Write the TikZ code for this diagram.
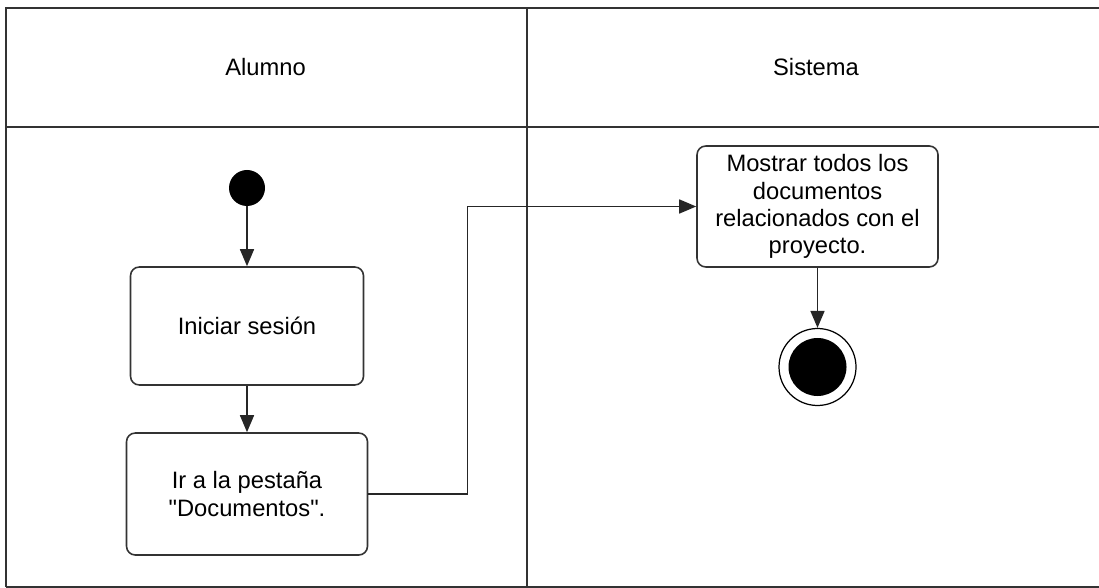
\documentclass[tikz,border=0pt]{standalone}
\usepackage{fontspec}
\setmainfont{Liberation Sans}
\newfontfamily\lanefont{Liberation Sans}
\usepackage{xcolor}
\usetikzlibrary{arrows.meta,positioning,calc}

\begin{document}
\begin{tikzpicture}[
  action/.style={rectangle, draw=black!80, rounded corners=5pt, line width=0.9pt,
                 align=center, font=\lanefont\fontsize{13.5}{15.5}\selectfont},
  lane/.style={draw=black!80, line width=1pt},
  flow/.style={-{Triangle[length=0.34cm, width=0.28cm]}, black!85, line width=0.9pt},
]
  \useasboundingbox (0,0) rectangle (21.98,-11.76);

  % Swimlanes
  \draw[lane] (0.12,-11.74) -- (0.12,-0.16) -- (21.98,-0.16);
  \draw[lane] (0.12,-2.54) -- (21.98,-2.54);
  \draw[lane] (0.12,-11.74) -- (21.98,-11.74);
  \draw[lane] (10.54,-0.16) -- (10.54,-11.74);
  \node[font=\lanefont\fontsize{13.5}{15.5}\selectfont] (alumno) at (5.31,-1.35) {Alumno};
  \node[font=\lanefont\fontsize{13.5}{15.5}\selectfont] (sistema) at (16.32,-1.35) {Sistema};

  % Nodes
  \node[circle, fill=black, inner sep=0pt, minimum size=0.72cm] (start) at (4.94,-3.76) {};
  \node[action, minimum width=4.66cm, minimum height=2.36cm] (login) at (4.94,-6.52) {Iniciar sesión};
  \node[action, minimum width=4.82cm, minimum height=2.44cm] (tab) at (4.94,-9.88)
    {Ir a la pestaña\\"Documentos".};
  \node[action, minimum width=4.82cm, minimum height=2.42cm] (show) at (16.35,-4.13)
    {Mostrar todos los\\documentos\\relacionados con el\\proyecto.};
  \node[circle, draw=black, line width=0.7pt, inner sep=0pt, minimum size=1.54cm] (stop) at (16.35,-7.34) {};
  \node[circle, fill=black, inner sep=0pt, minimum size=1.16cm] (stopdot) at (stop) {};

  % Flow
  \draw[flow] (start) -- (login);
  \draw[flow] (login) -- (tab);
  \draw[flow] (tab.east) -- ++(1.98,0) |- (show.west);
  \draw[flow] (show) -- (stop);
\end{tikzpicture}
\end{document}
